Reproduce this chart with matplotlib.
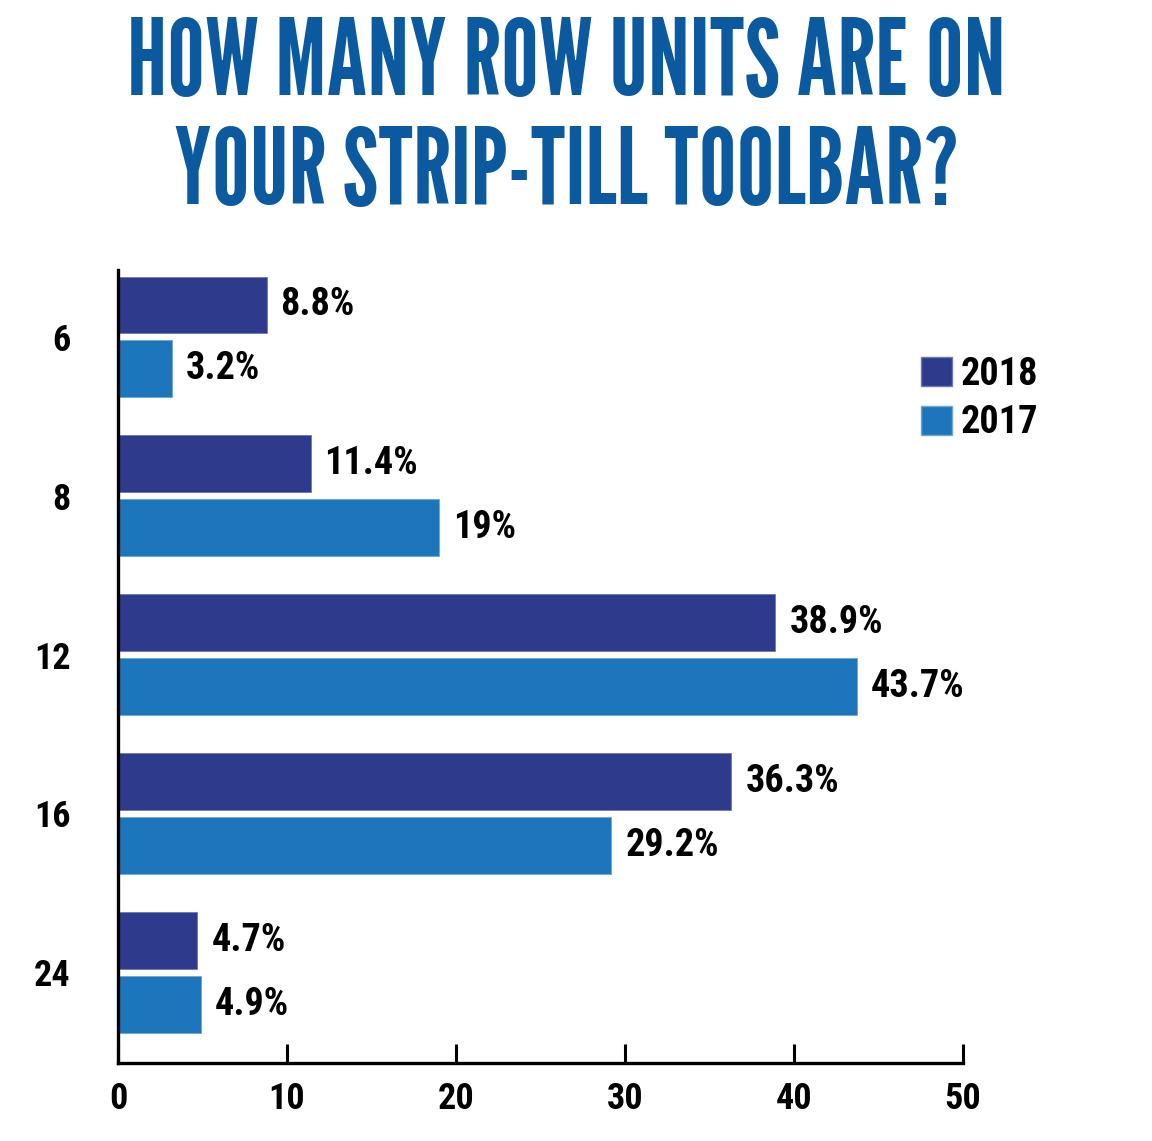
import matplotlib
matplotlib.use("Agg")
import matplotlib.pyplot as plt
from matplotlib.patches import Patch
import numpy as np

categories = ["6", "8", "12", "16", "24"]
values_2018 = [8.8, 11.4, 38.9, 36.3, 4.7]
values_2017 = [3.2, 19.0, 43.7, 29.2, 4.9]
labels_2018 = ["8.8%", "11.4%", "38.9%", "36.3%", "4.7%"]
labels_2017 = ["3.2%", "19%", "43.7%", "29.2%", "4.9%"]
x_ticks = [0, 10, 20, 30, 40, 50]
series_names = ["2018", "2017"]

C2018 = "#2E3A8C"
C2017 = "#1D75BC"
TITLE_C = "#0B5AA0"
FONT = ["Roboto Condensed", "PT Sans Narrow", "DejaVu Sans"]
TITLE_FONT = ["League Gothic", "Oswald", "DejaVu Sans"]
plt.rcParams["font.family"] = FONT
plt.rcParams["font.weight"] = "bold"

fig = plt.figure(figsize=(11.52, 11.41), dpi=100)
ax = fig.add_axes([118/1152, 1 - 1063/1141, (963-118)/1152, (1063-270)/1141])

y = np.arange(len(categories))
h = 0.358
off = 0.2
ax.barh(y - off, values_2018, height=h, color=C2018, edgecolor="#6E78B8", linewidth=0.6)
ax.barh(y + off, values_2017, height=h, color=C2017, edgecolor="#6FA6D8", linewidth=0.6)

for yi, v, lab in zip(y, values_2018, labels_2018):
    ax.annotate(lab, (v, yi - off), xytext=(10, 0), textcoords="offset points",
                va="center", ha="left", fontsize=27.5, fontweight="bold", color="black")
for yi, v, lab in zip(y, values_2017, labels_2017):
    ax.annotate(lab, (v, yi + off), xytext=(10, 0), textcoords="offset points",
                va="center", ha="left", fontsize=27.5, fontweight="bold", color="black")

ax.set_xlim(0, 50)
ax.set_ylim(len(categories) - 1 + 0.57, -0.42)
ax.set_xticks(x_ticks)
ax.set_xticklabels([str(t) for t in x_ticks], fontsize=26, fontweight="bold")
ax.set_yticks(y)
ax.set_yticklabels(categories, fontsize=26, fontweight="bold")
ax.tick_params(axis="x", direction="in", length=14, width=2.2, pad=13)
ax.tick_params(axis="y", length=0, pad=34)
for s in ["top", "right"]:
    ax.spines[s].set_visible(False)
for s in ["left", "bottom"]:
    ax.spines[s].set_linewidth(2.4)
    ax.spines[s].set_color("black")

handles = [Patch(facecolor=C2018, edgecolor="#6E78B8"), Patch(facecolor=C2017, edgecolor="#6FA6D8")]
leg = fig.legend(handles, series_names, loc="upper left", bbox_to_anchor=(921/1152, 1 - 356/1141),
                 frameon=False, fontsize=27.5, handlelength=0.8, handleheight=0.8,
                 handletextpad=0.25, labelspacing=0.3, borderpad=0, borderaxespad=0)
for t in leg.get_texts():
    t.set_fontweight("bold")

fig.text(566/1152, 1 - 95/1141, "HOW MANY ROW UNITS ARE ON", ha="center", va="baseline",
         fontsize=76, color=TITLE_C, family=TITLE_FONT, fontweight="normal")
fig.text(567/1152, 1 - 204/1141, "YOUR STRIP-TILL TOOLBAR?", ha="center", va="baseline",
         fontsize=76, color=TITLE_C, family=TITLE_FONT, fontweight="normal")

fig.savefig("out.png", dpi=100, facecolor="white")
